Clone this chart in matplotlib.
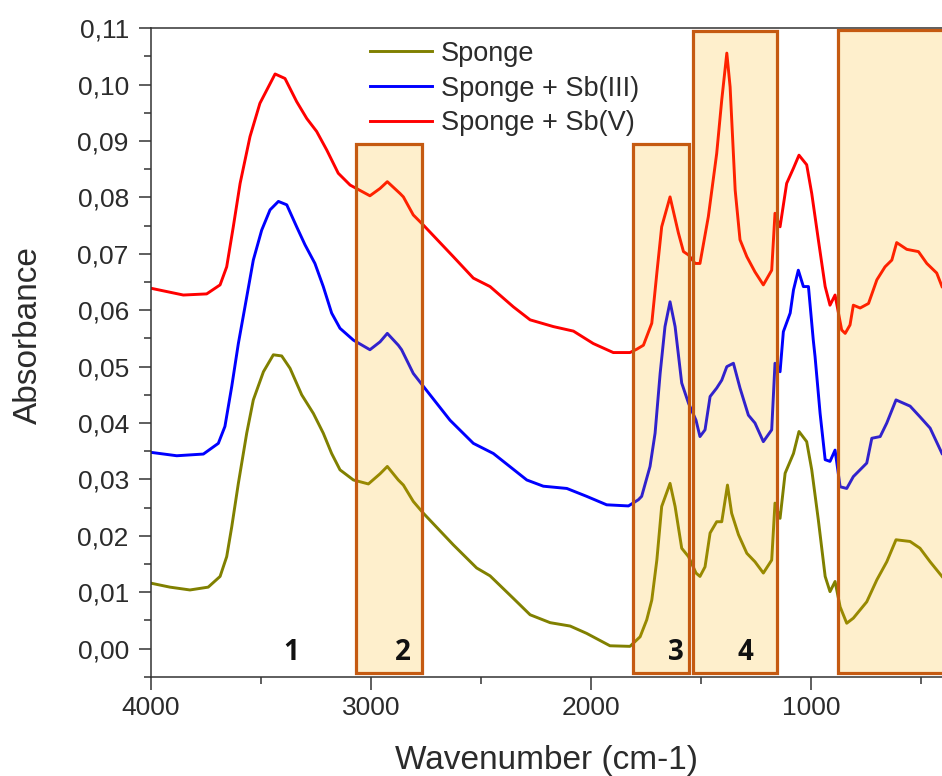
import matplotlib
matplotlib.use("Agg")
import matplotlib.pyplot as plt
from matplotlib.patches import Rectangle
from matplotlib.ticker import FuncFormatter, MultipleLocator

# ---------------- data ----------------
sponge_wn = [4000, 3914, 3823, 3740, 3686, 3656, 3633, 3603, 3565, 3535, 3489, 3444, 3406,
             3368, 3315, 3262, 3217, 3179, 3141, 3080, 3012, 2959, 2926, 2876, 2853, 2808,
             2762, 2626, 2520, 2459, 2353, 2277, 2186, 2095, 2020, 1914, 1823, 1777, 1747,
             1724, 1701, 1679, 1641, 1618, 1588, 1557, 1523, 1505, 1482, 1459, 1429, 1406,
             1380, 1361, 1330, 1292, 1255, 1217, 1179, 1164, 1141, 1118, 1080, 1055, 1020,
             997, 967, 936, 914, 891, 868, 838, 808, 747, 701, 656, 614, 550, 505, 459, 405]
sponge_ab = [0.0116, 0.0109, 0.0104, 0.0109, 0.0128, 0.0163, 0.0216, 0.0293, 0.0382, 0.0441,
             0.0491, 0.0521, 0.0519, 0.0497, 0.0450, 0.0417, 0.0382, 0.0346, 0.0317, 0.0299,
             0.0292, 0.0310, 0.0323, 0.0299, 0.0290, 0.0261, 0.0240, 0.0184, 0.0143, 0.0129,
             0.0089, 0.0060, 0.0046, 0.0040, 0.0027, 0.0005, 0.0004, 0.0021, 0.0051, 0.0086,
             0.0157, 0.0252, 0.0293, 0.0252, 0.0178, 0.0163, 0.0134, 0.0128, 0.0145, 0.0205,
             0.0225, 0.0225, 0.0290, 0.0240, 0.0202, 0.0169, 0.0154, 0.0134, 0.0157, 0.0258,
             0.0231, 0.0311, 0.0346, 0.0385, 0.0367, 0.0317, 0.0228, 0.0128, 0.0101, 0.0119,
             0.0074, 0.0045, 0.0054, 0.0083, 0.0122, 0.0154, 0.0193, 0.0190, 0.0178, 0.0154,
             0.0128]

sb3_wn = [4000, 3883, 3762, 3694, 3664, 3633, 3603, 3573, 3535, 3497, 3459, 3421, 3383,
          3338, 3300, 3255, 3217, 3179, 3141, 3080, 3005, 2959, 2926, 2876, 2861, 2808,
          2762, 2641, 2535, 2444, 2292, 2217, 2110, 2020, 1929, 1830, 1785, 1770, 1732,
          1709, 1686, 1664, 1641, 1618, 1588, 1557, 1523, 1505, 1482, 1459, 1429, 1406,
          1383, 1353, 1323, 1285, 1255, 1217, 1179, 1164, 1141, 1126, 1095, 1080, 1058,
          1035, 1012, 990, 982, 959, 936, 914, 891, 868, 838, 808, 747, 724, 686, 656,
          614, 550, 505, 459, 405]
sb3_ab = [0.0348, 0.0342, 0.0345, 0.0364, 0.0394, 0.0465, 0.0541, 0.0606, 0.0689, 0.0742,
          0.0778, 0.0793, 0.0787, 0.0748, 0.0716, 0.0683, 0.0642, 0.0595, 0.0568, 0.0547,
          0.0530, 0.0544, 0.0559, 0.0538, 0.0530, 0.0488, 0.0465, 0.0405, 0.0364, 0.0346,
          0.0299, 0.0288, 0.0284, 0.0270, 0.0255, 0.0253, 0.0264, 0.0270, 0.0323, 0.0382,
          0.0488, 0.0571, 0.0615, 0.0571, 0.0471, 0.0435, 0.0405, 0.0376, 0.0388, 0.0447,
          0.0462, 0.0476, 0.0500, 0.0506, 0.0462, 0.0414, 0.0400, 0.0367, 0.0388, 0.0506,
          0.0491, 0.0562, 0.0595, 0.0636, 0.0671, 0.0642, 0.0642, 0.0547, 0.0518, 0.0417,
          0.0335, 0.0332, 0.0352, 0.0287, 0.0284, 0.0305, 0.0329, 0.0373, 0.0376, 0.0400,
          0.0441, 0.0430, 0.0411, 0.0391, 0.0346]

sb5_wn = [4000, 3853, 3747, 3686, 3656, 3626, 3595, 3550, 3505, 3436, 3391, 3338, 3292,
          3247, 3201, 3149, 3095, 3005, 2959, 2926, 2868, 2853, 2808, 2762, 2626, 2535,
          2459, 2353, 2277, 2171, 2080, 1990, 1899, 1823, 1792, 1762, 1724, 1701, 1679,
          1641, 1603, 1580, 1557, 1527, 1505, 1467, 1429, 1406, 1383, 1368, 1345, 1323,
          1292, 1255, 1217, 1179, 1164, 1141, 1111, 1080, 1055, 1020, 997, 967, 936, 914,
          891, 861, 845, 823, 808, 777, 739, 701, 664, 633, 611, 565, 512, 474, 429, 405]
sb5_ab = [0.0639, 0.0627, 0.0629, 0.0645, 0.0677, 0.0748, 0.0825, 0.0908, 0.0967, 0.1019,
          0.1011, 0.0970, 0.0940, 0.0917, 0.0884, 0.0843, 0.0822, 0.0803, 0.0816, 0.0828,
          0.0807, 0.0801, 0.0769, 0.0751, 0.0695, 0.0657, 0.0642, 0.0606, 0.0583, 0.0571,
          0.0563, 0.0541, 0.0525, 0.0525, 0.0531, 0.0538, 0.0577, 0.0666, 0.0748, 0.0801,
          0.0737, 0.0704, 0.0698, 0.0683, 0.0683, 0.0766, 0.0878, 0.0973, 0.1056, 0.0996,
          0.0813, 0.0725, 0.0695, 0.0668, 0.0645, 0.0671, 0.0772, 0.0748, 0.0825, 0.0852,
          0.0875, 0.0858, 0.0807, 0.0725, 0.0642, 0.0609, 0.0627, 0.0565, 0.0559, 0.0574,
          0.0609, 0.0604, 0.0612, 0.0654, 0.0677, 0.0689, 0.0720, 0.0708, 0.0704, 0.0683,
          0.0666, 0.0642]

series_labels = ["Sponge", "Sponge + Sb(III)", "Sponge + Sb(V)"]
series_colors = ["#808000", "#0000FF", "#FF0000"]

# highlighted regions: (left wavenumber, right wavenumber, top absorbance)
region_left = [3070, 1809, 1535, 879]
region_right = [2767, 1555, 1155, 300]
region_top = [0.0894, 0.0894, 0.1095, 0.1097]
region_bottom = -0.0043

band_labels = ["1", "2", "3", "4"]
band_x = [3364, 2856, 1614, 1297]
band_y = -0.0021

y_ticks = [0.00, 0.01, 0.02, 0.03, 0.04, 0.05, 0.06, 0.07, 0.08, 0.09, 0.10, 0.11]
x_ticks = [4000, 3000, 2000, 1000]

# ---------------- figure ----------------
plt.rcParams['font.family'] = ['Liberation Sans', 'DejaVu Sans']
fig = plt.figure(figsize=(9.42, 7.76), dpi=100)
ax = fig.add_axes([151 / 942, 1 - 676.8 / 776, 1 - 151 / 942, (676.8 - 28.3) / 776])

for wn, ab, lab, col in zip([sponge_wn, sb3_wn, sb5_wn], [sponge_ab, sb3_ab, sb5_ab],
                            series_labels, series_colors):
    ax.plot(wn, ab, color=col, lw=2.1, label=lab, zorder=2)

for l, r, t in zip(region_left, region_right, region_top):
    ax.add_patch(Rectangle((r, region_bottom), l - r, t - region_bottom,
                           facecolor=(250 / 255, 175 / 255, 0, 0.2),
                           edgecolor="#C55A11", lw=2.3, zorder=3))

for lab, x in zip(band_labels, band_x):
    ax.text(x, band_y, lab, ha='center', va='baseline', fontsize=20,
            fontweight='bold', family=['Open Sans', 'DejaVu Sans'], color='#111111', zorder=4)

ax.set_xlim(4000, 405)
ax.set_ylim(-0.005, 0.11)
ax.set_xticks(x_ticks)
ax.set_yticks(y_ticks)
ax.xaxis.set_minor_locator(MultipleLocator(500))
ax.yaxis.set_minor_locator(MultipleLocator(0.005))
ax.yaxis.set_major_formatter(FuncFormatter(lambda v, p: f"{v:.2f}".replace('.', ',')))

for s in ['left', 'bottom', 'top']:
    ax.spines[s].set_color('#333333')
    ax.spines[s].set_linewidth(1.1)
ax.spines['right'].set_visible(False)

ax.tick_params(axis='both', which='major', direction='out', length=9, width=1.1,
               color='#333333', labelsize=19, labelcolor='#2b2b2b')
ax.tick_params(axis='both', which='minor', direction='out', length=5, width=1.1,
               color='#333333')
ax.tick_params(axis='y', which='major', pad=7)
ax.tick_params(axis='x', which='major', pad=5)

ax.set_xlabel("Wavenumber (cm-1)", fontsize=24, color='#2b2b2b', labelpad=18)
ax.set_ylabel("Absorbance", fontsize=24, color='#2b2b2b', labelpad=24)
ax.yaxis.label.set_y(0.527)

leg = ax.legend(loc='upper left', bbox_to_anchor=(0.277, 0.981), frameon=False,
                fontsize=19.5, handlelength=2.3, handletextpad=0.3, labelspacing=0.33,
                borderpad=0, borderaxespad=0)
for t in leg.get_texts():
    t.set_color('#2b2b2b')

fig.savefig("out.png", dpi=100)
